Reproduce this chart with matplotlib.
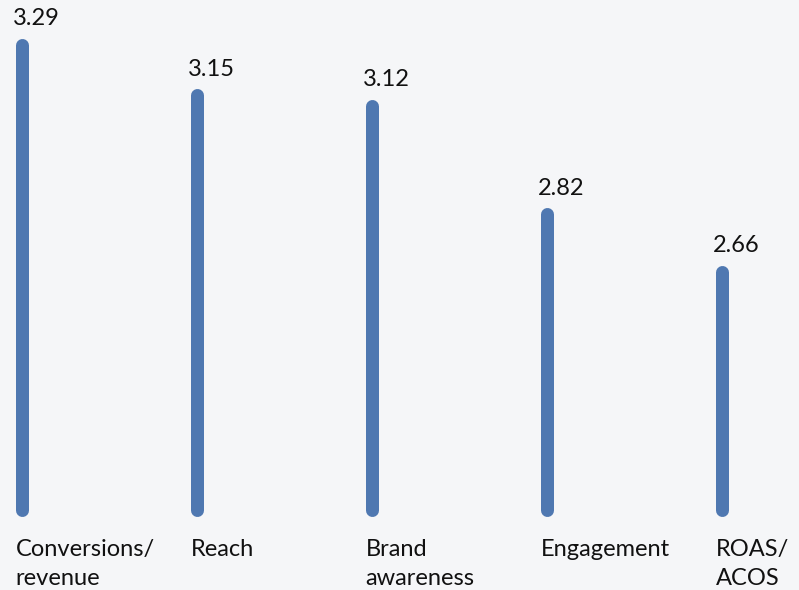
import numpy as np
import matplotlib
matplotlib.use('Agg')
import matplotlib.pyplot as plt

# ---------------------------------------------------------------------------
# Data
# ---------------------------------------------------------------------------
categories = ['Conversions/\nrevenue', 'Reach', 'Brand\nawareness',
              'Engagement', 'ROAS/\nACOS']
scores = [3.29, 3.15, 3.12, 2.82, 2.66]
value_labels = ['3.29', '3.15', '3.12', '2.82', '2.66']

# ---------------------------------------------------------------------------
# Style
# ---------------------------------------------------------------------------
bg = '#f5f6f8'
bar_color = '#4f78b1'
text_color = '#111111'
base = 2.0            # bars start from this score
bar_px = 13           # line thickness in pixels
line_px = 29          # spacing between label lines in pixels
dpi = 100
px = 72 / dpi         # one pixel in points

plt.rcParams['font.family'] = ['Lato', 'DejaVu Sans']

fig = plt.figure(figsize=(7.99, 5.90), dpi=dpi, facecolor=bg)
ax = fig.add_axes([0, 0, 1, 1])
ax.set_facecolor(bg)

x = np.arange(len(categories))
bars = ax.vlines(x, base, scores, colors=bar_color, linewidth=bar_px * px)
bars.set_capstyle('round')

# value on top of each bar
for xi, v, lab in zip(x, scores, value_labels):
    ax.annotate(lab, (xi, v), xytext=(-9.5 * px, 19.5 * px),
                textcoords='offset points', ha='left', va='baseline',
                fontsize=17, color=text_color)

# category names under the bars, one line at a time
for xi, cat in zip(x, categories):
    for k, line in enumerate(cat.split('\n')):
        ax.annotate(line, (xi, base),
                    xytext=(-6.5 * px, -(46 + k * line_px) * px),
                    textcoords='offset points', ha='left', va='baseline',
                    fontsize=17, color=text_color)

# scale: base -> 510 px from top, 3.29 -> 44.5 px
s = (510 - 44.5) / (scores[0] - base)
ax.set_ylim(base - (590 - 510) / s, scores[0] + 44.5 / s)
step = 175
ax.set_xlim(-22 / step, (799 - 22) / step)
ax.axis('off')

fig.savefig('out.png', dpi=dpi, facecolor=bg)
